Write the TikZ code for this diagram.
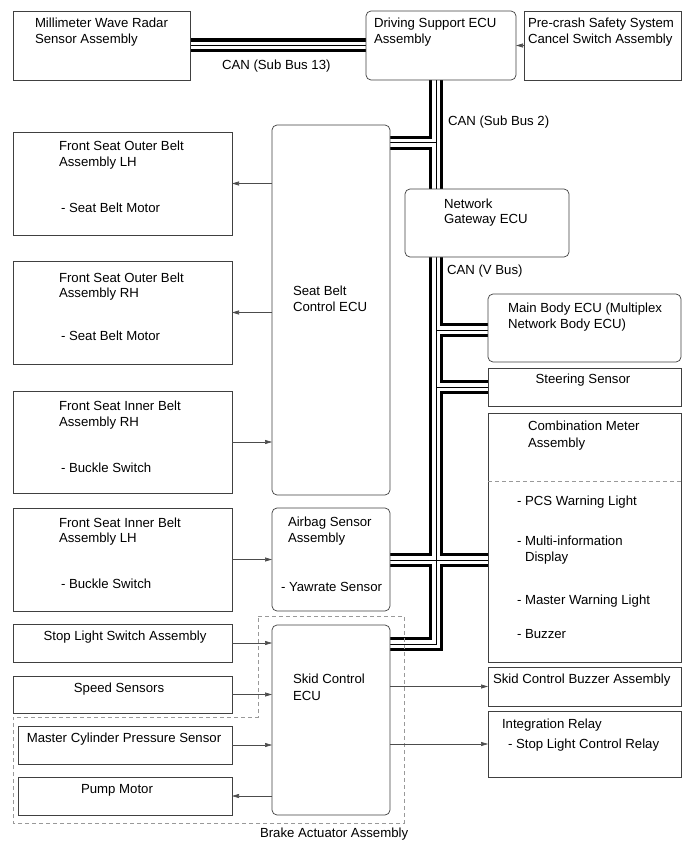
\documentclass[tikz,border=0pt]{standalone}
\usepackage{fontspec}
\setmainfont{Liberation Sans}
\usetikzlibrary{arrows.meta,backgrounds}
\begin{document}
\begin{tikzpicture}[x=1pt,y=-1pt,
  box/.style={draw=black!75, line width=0.7pt, fill=white, inner sep=0pt, outer sep=0pt, anchor=north west},
  rbox/.style={box, rounded corners=5pt},
  txt/.style={anchor=base west, inner sep=0pt, outer sep=0pt, font=\fontsize{13.2}{16}\selectfont},
  ctxt/.style={txt, anchor=base},
  arr/.style={draw=black!70, line width=0.6pt, -{Triangle[length=7pt,width=4pt]}},
  busA/.style={line width=14pt, draw=black, line join=miter},
  busB/.style={line width=7.6pt, draw=white, line join=miter},
  busC/.style={line width=1pt, draw=black, line join=miter},
  dsh/.style={draw=black!40, line width=0.8pt, dash pattern=on 4pt off 3pt},
]
\useasboundingbox (0,0) rectangle (690,853);

% ---------- boxes ----------
\node[box,  minimum width=177pt, minimum height=69pt]  (radar)  at (13,11)  {};
\node[rbox, minimum width=150pt, minimum height=69pt]  (drv)    at (366,11) {};
\node[box,  minimum width=157pt, minimum height=69pt]  (pre)    at (524,11) {};
\node[rbox, minimum width=118pt, minimum height=370pt] (seat)   at (272,125) {};
\node[rbox, minimum width=164pt, minimum height=68pt]  (gw)     at (405,189) {};
\node[rbox, minimum width=193pt, minimum height=68pt]  (main)   at (488,294) {};
\node[box,  minimum width=193pt, minimum height=38pt]  (steer)  at (488,368) {};
\node[box,  minimum width=193pt, minimum height=249pt] (comb)   at (488,413) {};
\node[rbox, minimum width=118pt, minimum height=103pt] (airbag) at (272,508) {};
\node[rbox, minimum width=118pt, minimum height=190pt] (skid)   at (272,625) {};
\node[box,  minimum width=193pt, minimum height=39pt]  (buzz)   at (488,667) {};
\node[box,  minimum width=193pt, minimum height=66pt]  (relay)  at (488,711) {};
\node[box,  minimum width=219pt, minimum height=103pt] (lhout)  at (13,132) {};
\node[box,  minimum width=219pt, minimum height=103pt] (rhout)  at (13,261) {};
\node[box,  minimum width=219pt, minimum height=102pt] (rhin)   at (13,391) {};
\node[box,  minimum width=219pt, minimum height=103pt] (lhin)   at (13,508) {};
\node[box,  minimum width=219pt, minimum height=38pt]  (stop)   at (13,624) {};
\node[box,  minimum width=219pt, minimum height=37pt]  (speed)  at (13,676) {};
\node[box,  minimum width=214pt, minimum height=38pt]  (master) at (18,726) {};
\node[box,  minimum width=214pt, minimum height=38pt]  (pump)   at (18,777) {};

\coordinate (bx) at (436,0);

% ---------- CAN buses ----------
\newcommand\buspaths[1]{%
  \draw[#1] (radar.east) -- (drv.west);
  \draw[#1] (drv.south -| bx) -- (bx |- 0,644) -- (skid.east |- 0,644);
  \draw[#1] (seat.east |- 0,143) -- (bx |- 0,143);
  \draw[#1] (bx |- 0,330) -- (main.west |- 0,330);
  \draw[#1] (bx |- steer.west) -- (steer.west);
  \draw[#1] (airbag.east |- 0,560) -- (comb.west |- 0,560);
}
\begin{pgfonlayer}{background}
  \buspaths{busA}
  \buspaths{busB}
  \buspaths{busC}
\end{pgfonlayer}

% ---------- brake actuator outline ----------
\draw[dsh] (258,616) coordinate (ba1) -- (404,616) -- (404,823) -- (13,823) -- (13,717) -- (258,717) -- cycle;
\draw[dsh] (comb.west |- 0,481) -- (comb.east |- 0,481);

% ---------- arrows ----------
\draw[arr] (pre.west) -- (drv.east);
\draw[arr] (seat.west |- lhout.east) -- (lhout.east);
\draw[arr] (seat.west |- rhout.east) -- (rhout.east);
\draw[arr] (rhin.east) -- (rhin.east -| seat.west);
\draw[arr] (lhin.east) -- (lhin.east -| airbag.west);
\draw[arr] (stop.east) -- (stop.east -| skid.west);
\draw[arr] (speed.east) -- (speed.east -| skid.west);
\draw[arr] (master.east) -- (master.east -| skid.west);
\draw[arr] (skid.west |- pump.east) -- (pump.east);
\draw[arr] (skid.east |- buzz.west) -- (buzz.west);
\draw[arr] (skid.east |- relay.west) -- (relay.west);

% ---------- texts ----------
\node[txt] (tr1) at (35,28) {Millimeter Wave Radar};
\node[txt] (tr2) at (35,44) {Sensor Assembly};
\node[txt] (td1) at (374,28) {Driving Support ECU};
\node[txt] (td2) at (374,44) {Assembly};
\node[txt] (tp1) at (528,28) {Pre-crash Safety System};
\node[txt] (tp2) at (528,44) {Cancel Switch Assembly};
\node[txt] (can13) at (222,70) {CAN (Sub Bus 13)};
\node[txt] (can2) at (448,126) {CAN (Sub Bus 2)};
\node[txt] (canv) at (447,274) {CAN (V Bus)};

\node[txt] (ts1) at (293,295) {Seat Belt};
\node[txt] (ts2) at (293,311) {Control ECU};
\node[txt] (tg1) at (444,208) {Network};
\node[txt] (tg2) at (444,223) {Gateway ECU};
\node[txt] (tm1) at (508,312) {Main Body ECU (Multiplex};
\node[txt] (tm2) at (508,328) {Network Body ECU)};
\node[ctxt] (tst) at (583,383) {Steering Sensor};
\node[txt] (tc1) at (528,430) {Combination Meter};
\node[txt] (tc2) at (528,447) {Assembly};
\node[txt] (tc3) at (517,505) {- PCS Warning Light};
\node[txt] (tc4) at (517,545) {- Multi-information};
\node[txt] (tc5) at (525,561) {Display};
\node[txt] (tc6) at (517,604) {- Master Warning Light};
\node[txt] (tc7) at (517,638) {- Buzzer};

\node[txt] (ta1) at (288,526) {Airbag Sensor};
\node[txt] (ta2) at (288,542) {Assembly};
\node[txt] (ta3) at (281,591) {- Yawrate Sensor};
\node[txt] (tk1) at (293,683) {Skid Control};
\node[txt] (tk2) at (293,700) {ECU};

\node[txt] (tlo1) at (59,151) {Front Seat Outer Belt};
\node[txt] (tlo2) at (59,167) {Assembly LH};
\node[txt] (tlo3) at (61,212) {- Seat Belt Motor};
\node[txt] (tro1) at (59,282) {Front Seat Outer Belt};
\node[txt] (tro2) at (59,297) {Assembly RH};
\node[txt] (tro3) at (61,340) {- Seat Belt Motor};
\node[txt] (tri1) at (59,410) {Front Seat Inner Belt};
\node[txt] (tri2) at (59,426) {Assembly RH};
\node[txt] (tri3) at (61,472) {- Buckle Switch};
\node[txt] (tli1) at (59,527) {Front Seat Inner Belt};
\node[txt] (tli2) at (59,542) {Assembly LH};
\node[txt] (tli3) at (61,588) {- Buckle Switch};

\node[ctxt] (tstop) at (125,640) {Stop Light Switch Assembly};
\node[ctxt] (tspd) at (119,692) {Speed Sensors};
\node[ctxt] (tmas) at (124,742) {Master Cylinder Pressure Sensor};
\node[ctxt] (tpmp) at (117,793) {Pump Motor};
\node[txt] (tbz) at (493,683) {Skid Control Buzzer Assembly};
\node[txt] (tir1) at (502,728) {Integration Relay};
\node[txt] (tir2) at (508,748) {- Stop Light Control Relay};
\node[txt] (tba) at (260,837) {Brake Actuator Assembly};
\end{tikzpicture}
\end{document}
